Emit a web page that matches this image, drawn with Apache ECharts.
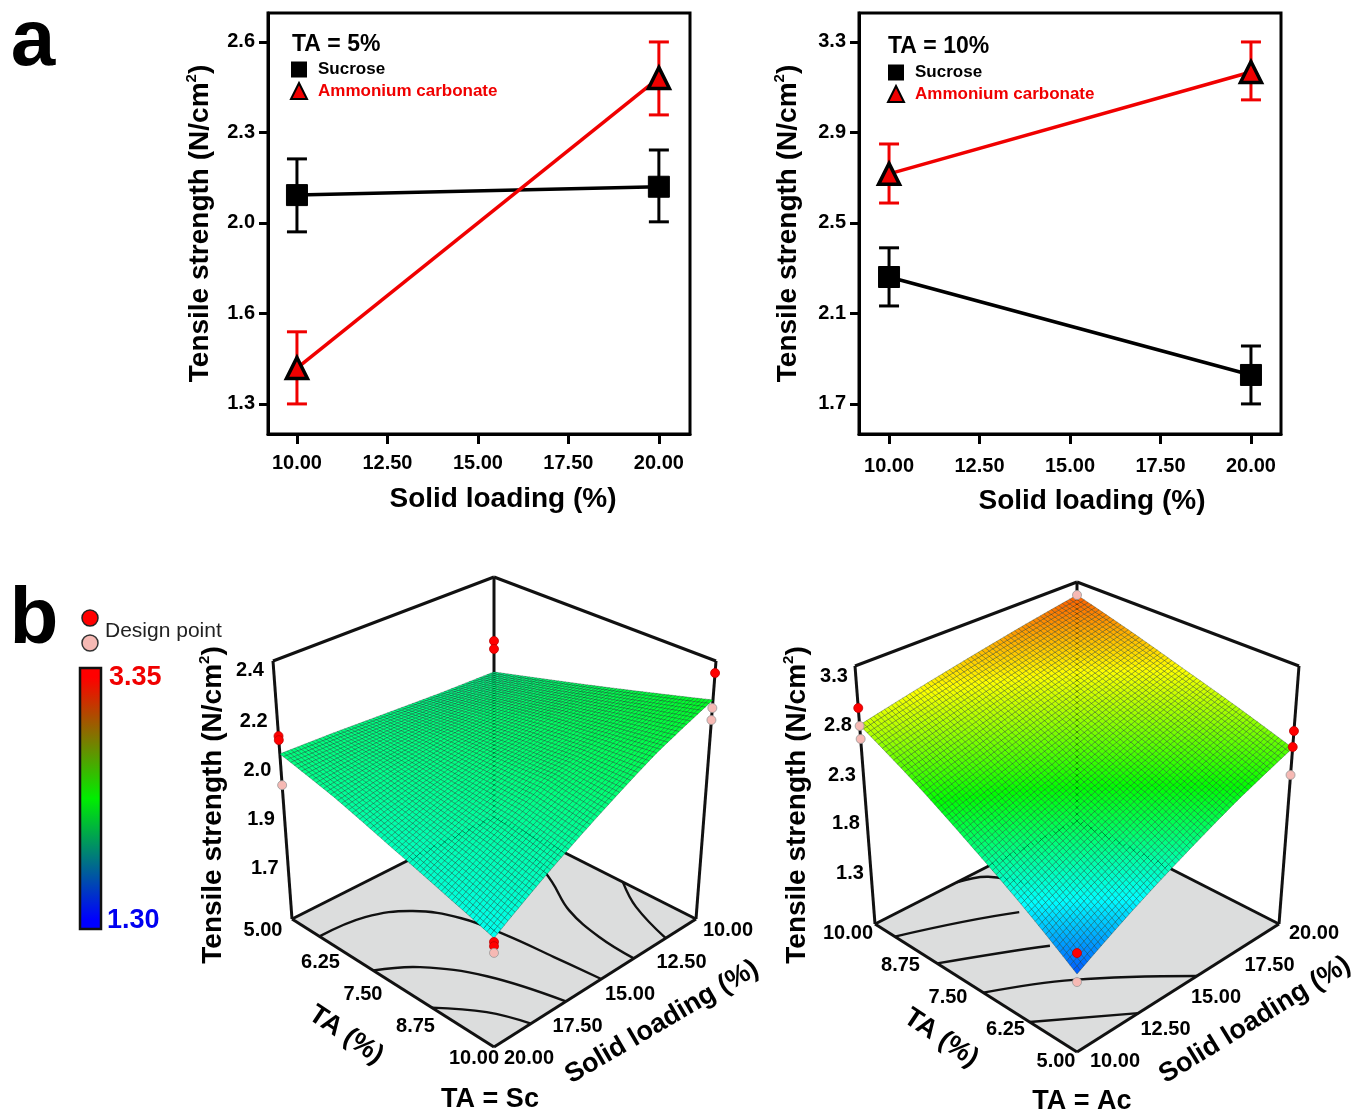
<!DOCTYPE html>
<html>
<head>
<meta charset="utf-8">
<style>html,body{margin:0;padding:0;background:#fff}#c{width:1354px;height:1113px}</style>
<script src="https://cdn.jsdelivr.net/npm/echarts@6/dist/echarts.min.js"></script>
</head>
<body>
<div id="c"></div>
<script>
// ---------- Panel a data ----------
const solidLoading = [10, 20];
const xTicks = [10, 12.5, 15, 17.5, 20];
const yTicks5 = [1.3, 1.625, 1.95, 2.275, 2.6];
const yTickLabels5 = ['1.3', '1.6', '2.0', '2.3', '2.6'];
const yTicks10 = [1.7, 2.1, 2.5, 2.9, 3.3];
const yTickLabels10 = ['1.7', '2.1', '2.5', '2.9', '3.3'];

const sucrose5 = [2.05, 2.08];
const sucrose5Low = [1.918, 1.954];
const sucrose5High = [2.18, 2.212];
const ammonium5 = [1.429, 2.471];
const ammonium5Low = [1.30, 2.338];
const ammonium5High = [1.559, 2.60];

const sucrose10 = [2.261, 1.828];
const sucrose10Low = [2.133, 1.70];
const sucrose10High = [2.39, 1.956];
const ammonium10 = [2.717, 3.167];
const ammonium10Low = [2.588, 3.044];
const ammonium10High = [2.849, 3.30];

// ---------- Panel b data ----------
const surfaceTA = [5, 6.25, 7.5, 8.75, 10];
const surfaceSL = [10, 12.5, 15, 17.5, 20];
// rows follow surfaceTA, columns follow surfaceSL
const surfaceSc = [
  [2.044, 2.05, 2.06, 2.07, 2.076],
  [2.10, 2.09, 2.075, 2.05, 2.02],
  [2.155, 2.125, 2.08, 2.02, 1.955],
  [2.21, 2.15, 2.085, 1.99, 1.895],
  [2.264, 2.17, 2.06, 1.95, 1.838]
];
const surfaceAc = [
  [1.472, 1.74, 2.0, 2.26, 2.505],
  [1.79, 2.02, 2.24, 2.46, 2.67],
  [2.10, 2.28, 2.46, 2.65, 2.83],
  [2.42, 2.56, 2.71, 2.85, 3.0],
  [2.728, 2.84, 2.95, 3.06, 3.164]
];
// design points: [TA, solid loading, strength]
const designAboveSc = [[5,10,2.16],[5,10,2.13],[5,20,2.138],[5,20,2.124],[10,10,2.358],[10,20,1.826],[10,20,1.813]];
const designBelowSc = [[5,20,1.967],[10,10,2.236],[10,10,2.194],[10,20,1.792]];
const designAboveAc = [[10,10,2.893],[5,20,2.67],[5,20,2.515],[5,10,1.653]];
const designBelowAc = [[10,10,2.719],[10,10,2.593],[5,20,2.244],[10,20,3.164],[5,10,1.403]];
// floor contours: [TA, solid loading]
const contoursSc = [
  [[5.68,20],[5.78,17.94],[6.2,16.42],[6.94,15.5],[7.86,15.12],[8.93,14.89],[10,14.69]],
  [[7.01,20],[7.49,18.64],[8.49,17.33],[10,16.44]],
  [[8.46,20],[9.22,18.8],[10,18.17]],
  [[6.5,11],[7.26,11.65],[8.11,12.51],[9.09,12.97],[10,13.08]],
  [[8.19,10],[8.92,10.81],[10,11.5]]
];
const contoursAc = [
  [[7.32,10],[6.49,12.82],[5,15.94]],
  [[6.17,10],[5,13.04]],
  [[8.46,10],[7.5,13.66],[6.82,15.52],[5,18.62]],
  [[9.51,10],[8.6,14.34],[7.23,18.12],[6,20]],
  [[10,14.04],[9.76,15.12],[9.09,15.85]]
];
const taTicks = [5, 6.25, 7.5, 8.75, 10];
const slTicks = [10, 12.5, 15, 17.5, 20];
const zTicksSc = [2.4, 2.225, 2.05, 1.875, 1.7];
const zLabelsSc = ['2.4', '2.2', '2.0', '1.9', '1.7'];
const zTicksAc = [3.3, 2.8, 2.3, 1.8, 1.3];
const zLabelsAc = ['3.3', '2.8', '2.3', '1.8', '1.3'];

// ---------- Layout ----------
const FAMILY = '"Liberation Sans", Arial, sans-serif';
const bold = s => 'bold ' + s + 'px ' + FAMILY;
const boldText = (s, c) => ({fontFamily: '"Liberation Sans", Arial, sans-serif', fontWeight: 'bold', fontSize: s, color: c || '#000'});
const panelSc = {
  floor: {B:[494,817], L:[292,919], R:[696,919], F:[494,1047]},
  top:   {B:[494,577], L:[273,661], R:[716,661], F:[494,757]},
  a: t => (t - 5) / 5, b: s => (s - 10) / 10,
  zMin: 1.5, zMax: 2.4, table: surfaceSc,
  contours: contoursSc, above: designAboveSc, below: designBelowSc,
  taDx: [-29, -22, -30, -28, -20], taDy: 11, slDx: [32, 36, 35, 33, 35], slDy: 11, taEdgeSL: 20, slEdgeTA: 10,
  zTicks: zTicksSc, zLabels: zLabelsSc, zEdge: [5, 20], zDx: -23, zDy: [9, 10, 9, 8, 7]
};
const panelAc = {
  floor: {B:[1077,821], L:[875,924], R:[1279,924], F:[1077,1052]},
  top:   {B:[1077,582], L:[855,666], R:[1299,666], F:[1077,762]},
  a: t => (10 - t) / 5, b: s => (20 - s) / 10,
  zMin: 0.8, zMax: 3.3, table: surfaceAc,
  contours: contoursAc, above: designAboveAc, below: designBelowAc,
  taDx: [-21, -21, -28, -25, -27], taDy: 9, slDx: [38, 38, 38, 41, 35], slDy: 9, taEdgeSL: 10, slEdgeTA: 5,
  zTicks: zTicksAc, zLabels: zLabelsAc, zEdge: [10, 10], zDx: -21, zDy: [10, 7.5, 6, 3, 1]
};
function bil(c, a, b) {
  const k = i => (1-a)*(1-b)*c.B[i] + (1-a)*b*c.L[i] + a*(1-b)*c.R[i] + a*b*c.F[i];
  return [k(0), k(1)];
}
function project(p, ta, sl, z) {
  const a = p.a(ta), b = p.b(sl), f = (z - p.zMin) / (p.zMax - p.zMin);
  const lo = bil(p.floor, a, b), hi = bil(p.top, a, b);
  return [lo[0] + (hi[0]-lo[0])*f, lo[1] + (hi[1]-lo[1])*f];
}
function tableValue(table, ta, sl) {
  const u = Math.min(3.9999, (ta - surfaceTA[0]) / 1.25), v = Math.min(3.9999, (sl - surfaceSL[0]) / 2.5);
  const i = Math.floor(u), j = Math.floor(v), fu = u - i, fv = v - j;
  return (1-fu)*(1-fv)*table[i][j] + (1-fu)*fv*table[i][j+1] + fu*(1-fv)*table[i+1][j] + fu*fv*table[i+1][j+1];
}
function rainbow(z) {
  const stops = [[1.30,[0,0,255]],[1.8125,[0,255,255]],[2.325,[0,255,0]],[2.8375,[255,255,0]],[3.35,[255,0,0]]];
  for (let i = 1; i < stops.length; i++) {
    if (z <= stops[i][0]) {
      const t = Math.max(0, (z - stops[i-1][0]) / (stops[i][0] - stops[i-1][0]));
      const c = stops[i-1][1].map((v, k) => Math.round(v + (stops[i][1][k] - v) * t));
      return 'rgb(' + c.join(',') + ')';
    }
  }
  return 'rgb(255,0,0)';
}
const MESH = 60;
function meshCells(p) {
  const cells = [];
  for (let i = 0; i < MESH; i++) {
    for (let j = 0; j < MESH; j++) {
      const corner = (ii, jj) => {
        const ta = 5 + 5 * ii / MESH, sl = 10 + 10 * jj / MESH;
        return project(p, ta, sl, tableValue(p.table, ta, sl));
      };
      const ta = 5 + 5 * (i + .5) / MESH, sl = 10 + 10 * (j + .5) / MESH;
      cells.push([].concat(corner(i,j), corner(i+1,j), corner(i+1,j+1), corner(i,j+1), [tableValue(p.table, ta, sl)]));
    }
  }
  return cells;
}
const poly = (api, n) => {
  const pts = [];
  for (let k = 0; k < n; k++) pts.push(api.coord([api.value(2*k), api.value(2*k+1)]));
  return pts;
};
function surfaceSeries(p) {
  return {
    type: 'custom', xAxisIndex: 2, yAxisIndex: 2, silent: true, clip: false, progressive: 0, animation: false, z: 4,
    data: meshCells(p),
    renderItem: (params, api) => ({
      type: 'polygon',
      shape: {points: poly(api, 4)},
      style: {fill: rainbow(api.value(8)), stroke: 'rgba(0,30,20,0.5)', lineWidth: 0.6}
    })
  };
}
function floorSeries(p) {
  const c = [[5,10],[5,20],[10,20],[10,10]].map(q => project(p, q[0], q[1], p.zMin));
  return {
    type: 'custom', xAxisIndex: 2, yAxisIndex: 2, silent: true, clip: false, animation: false, z: 2,
    data: [[].concat(c[0], c[1], c[2], c[3])],
    renderItem: (params, api) => ({type: 'polygon', shape: {points: poly(api, 4)}, style: {fill: '#dcdddd', stroke: null}})
  };
}
function lineSeries(data, width, z) {
  return {
    type: 'custom', xAxisIndex: 2, yAxisIndex: 2, silent: true, clip: false, animation: false, z: z,
    data: data,
    renderItem: (params, api) => {
      const n = data[params.dataIndex].length / 2;
      return {type: 'polyline', shape: {points: poly(api, n), smooth: n > 2 ? 0.4 : 0},
        style: {fill: null, stroke: '#111', lineWidth: width, lineJoin: 'round'}};
    }
  };
}
function contourSeries(p) {
  return lineSeries(p.contours.map(l => [].concat(...l.map(q => project(p, q[0], q[1], p.zMin)))), 2.4, 3);
}
function boxSeries(p) {
  const f = (t, s) => project(p, t, s, p.zMin), h = (t, s) => project(p, t, s, p.zMax);
  let back, left, right, front;
  const cs = [[5,10],[5,20],[10,10],[10,20]];
  cs.forEach(q => {
    const a = p.a(q[0]), b = p.b(q[1]);
    if (!a && !b) back = q; else if (!a && b) left = q; else if (a && !b) right = q; else front = q;
  });
  const seg = (u, v) => [].concat(u, v);
  return lineSeries([
    seg(f(...left), f(...back)), seg(f(...right), f(...back)), seg(f(...back), h(...back)),
    seg(f(...left), f(...front)), seg(f(...right), f(...front)),
    seg(f(...left), h(...left)), seg(f(...right), h(...right)),
    seg(h(...left), h(...back)), seg(h(...right), h(...back))
  ], 3, 3);
}
function designSeries(p, list, color, stroke) {
  return {
    type: 'scatter', xAxisIndex: 2, yAxisIndex: 2, silent: true, clip: false, animation: false, z: 6,
    symbolSize: 9, itemStyle: {color: color, borderColor: stroke, borderWidth: 0.8, opacity: 1},
    data: list.map(q => project(p, q[0], q[1], q[2]))
  };
}
function errorSeries(x, low, high, color, xi) {
  return {
    type: 'custom', xAxisIndex: xi, yAxisIndex: xi, silent: true, animation: false, z: 3,
    data: x.map((v, i) => [v, low[i], high[i]]),
    renderItem: (params, api) => {
      const a = api.coord([api.value(0), api.value(1)]), b = api.coord([api.value(0), api.value(2)]);
      const s = {stroke: color, lineWidth: 3};
      const cap = 10;
      return {type: 'group', children: [
        {type: 'line', shape: {x1: a[0], y1: a[1], x2: b[0], y2: b[1]}, style: s},
        {type: 'line', shape: {x1: a[0]-cap, y1: a[1], x2: a[0]+cap, y2: a[1]}, style: s},
        {type: 'line', shape: {x1: b[0]-cap, y1: b[1], x2: b[0]+cap, y2: b[1]}, style: s}
      ]};
    }
  };
}
function meanSeries(name, x, y, kind, xi) {
  const red = kind === 'triangle';
  return {
    name: name, type: 'line', xAxisIndex: xi, yAxisIndex: xi, animation: false, z: 4,
    data: x.map((v, i) => [v, y[i]]),
    symbol: red ? 'triangle' : 'rect',
    symbolSize: 21,
    showAllSymbol: true,
    lineStyle: {color: red ? '#f00000' : '#000', width: 3.5},
    itemStyle: red ? {color: '#f00000', borderColor: '#000', borderWidth: 3.5} : {color: '#000', borderColor: '#000'}
  };
}
const graphicRich = {
  a: {font: bold(28), fill: '#000', lineHeight: 32},
  b: {font: bold(15), fill: '#000', verticalAlign: 'top', lineHeight: 32}
};
const axisRich = {
  a: Object.assign(boldText(28), {lineHeight: 32}),
  b: Object.assign(boldText(15), {verticalAlign: 'top', lineHeight: 32})
};
const xAxisA = (min, max, margin, gap, shift) => ({
  type: 'value', min: min, max: max, gridIndex: 0,
  name: 'Solid loading (%)', nameLocation: 'middle', nameGap: gap,
  nameTextStyle: Object.assign(boldText(28), {padding: [0, 0, 0, shift]}),
  axisLine: {show: true, onZero: false, lineStyle: {color: '#000', width: 3}},
  axisTick: {show: true, length: 10, customValues: xTicks, lineStyle: {color: '#000', width: 3}},
  axisLabel: Object.assign(boldText(20), {customValues: xTicks, margin: margin, formatter: v => Number(v).toFixed(2)}),
  splitLine: {show: false}
});
const yAxisA = (min, max, ticks, labels, gap) => ({
  type: 'value', min: min, max: max,
  name: '{a|Tensile strength (N/cm}{b|2}{a|)}', nameLocation: 'middle', nameRotate: 90, nameGap: gap,
  nameTextStyle: {rich: axisRich},
  axisLine: {show: true, onZero: false, lineStyle: {color: '#000', width: 3}},
  axisTick: {show: true, length: 9, customValues: ticks, lineStyle: {color: '#000', width: 3}},
  axisLabel: Object.assign(boldText(20), {customValues: ticks, margin: 13,
    formatter: v => labels[ticks.findIndex(t => Math.abs(t - v) < 1e-6)]}),
  splitLine: {show: false}
});
const legendA = (left, top) => ({
  left: left, top: top, orient: 'vertical', itemWidth: 16, itemHeight: 16, itemGap: 4, selectedMode: false,
  textStyle: boldText(17),
  data: [
    {name: 'Sucrose', icon: 'rect', textStyle: Object.assign(boldText(17), {padding: [0, 0, 0, 6]})},
    {name: 'Ammonium carbonate', icon: 'triangle', textStyle: Object.assign(boldText(17, '#f00000'), {padding: [0, 0, 0, 6]})}
  ]
});
const txt = (text, x, y, font, fill, rotation, align) => ({
  type: 'text', x: x, y: y, rotation: rotation || 0, z: 20, silent: true,
  style: {text: text, font: font, fill: fill || '#000', align: align || 'center', verticalAlign: 'middle'}
});
const zTitle = (x, y) => ({
  type: 'text', x: x, y: y, rotation: Math.PI / 2, z: 20, silent: true,
  style: {text: '{a|Tensile strength (N/cm}{b|2}{a|)}', rich: graphicRich, align: 'center', verticalAlign: 'middle'}
});
function panelTexts(p) {
  const out = [];
  taTicks.forEach((t, i) => {
    const q = project(p, t, p.taEdgeSL, p.zMin);
    out.push(txt(t.toFixed(2), q[0] + p.taDx[i], q[1] + p.taDy, bold(20)));
  });
  slTicks.forEach((s, i) => {
    const q = project(p, p.slEdgeTA, s, p.zMin);
    out.push(txt(s.toFixed(2), q[0] + p.slDx[i], q[1] + p.slDy, bold(20)));
  });
  p.zTicks.forEach((z, i) => {
    const q = project(p, p.zEdge[0], p.zEdge[1], z);
    out.push(txt(p.zLabels[i], q[0] + p.zDx, q[1] + p.zDy[i], bold(20)));
  });
  return out;
}

const chart = echarts.init(document.getElementById('c'), null, {renderer: 'canvas'});
chart.setOption({
  backgroundColor: '#fff',
  animation: false,
  grid: [
    {left: 268, top: 13, width: 422, height: 421, show: true, borderColor: '#000', borderWidth: 3, backgroundColor: 'transparent'},
    {left: 859, top: 13, width: 422, height: 421, show: true, borderColor: '#000', borderWidth: 3, backgroundColor: 'transparent'},
    {left: 0, top: 0, right: 0, bottom: 0}
  ],
  xAxis: [
    xAxisA(9.2, 20.86, 19, 51, 48),
    Object.assign(xAxisA(9.17, 20.83, 22, 53, 44), {gridIndex: 1}),
    {type: 'value', gridIndex: 2, min: 0, max: 1354, show: false}
  ],
  yAxis: [
    Object.assign(yAxisA(1.192, 2.704, yTicks5, yTickLabels5, 52), {gridIndex: 0}),
    Object.assign(yAxisA(1.567, 3.428, yTicks10, yTickLabels10, 55), {gridIndex: 1}),
    {type: 'value', gridIndex: 2, min: 0, max: 1113, inverse: true, show: false}
  ],
  legend: [legendA(285, 56), legendA(882, 59)],
  series: [
    errorSeries(solidLoading, sucrose5Low, sucrose5High, '#000', 0),
    errorSeries(solidLoading, ammonium5Low, ammonium5High, '#f00000', 0),
    meanSeries('Sucrose', solidLoading, sucrose5, 'square', 0),
    meanSeries('Ammonium carbonate', solidLoading, ammonium5, 'triangle', 0),
    errorSeries(solidLoading, sucrose10Low, sucrose10High, '#000', 1),
    errorSeries(solidLoading, ammonium10Low, ammonium10High, '#f00000', 1),
    meanSeries('Sucrose', solidLoading, sucrose10, 'square', 1),
    meanSeries('Ammonium carbonate', solidLoading, ammonium10, 'triangle', 1),
    floorSeries(panelSc), contourSeries(panelSc), boxSeries(panelSc), surfaceSeries(panelSc),
    designSeries(panelSc, panelSc.above, '#ff0000', '#c00000'),
    designSeries(panelSc, panelSc.below, '#f6b9b4', '#999'),
    floorSeries(panelAc), contourSeries(panelAc), boxSeries(panelAc), surfaceSeries(panelAc),
    designSeries(panelAc, panelAc.above, '#ff0000', '#c00000'),
    designSeries(panelAc, panelAc.below, '#f6b9b4', '#999')
  ],
  graphic: [
    txt('a', 33, 43, bold(80)),
    txt('b', 34, 621, bold(80)),
    txt('TA = 5%', 292, 45, bold(23), '#000', 0, 'left'),
    txt('TA = 10%', 888, 47, bold(23), '#000', 0, 'left'),
    {type: 'circle', shape: {cx: 90, cy: 618, r: 8}, style: {fill: '#ff0000', stroke: '#222', lineWidth: 1.5}, silent: true, z: 20},
    {type: 'circle', shape: {cx: 90, cy: 643, r: 8}, style: {fill: '#f6b9b4', stroke: '#333', lineWidth: 1.5}, silent: true, z: 20},
    txt('Design point', 105, 631, '21px ' + FAMILY, '#222', 0, 'left'),
    {type: 'rect', shape: {x: 80, y: 668, width: 21, height: 261}, silent: true, z: 20,
      style: {stroke: '#111', lineWidth: 2.5, fill: new echarts.graphic.LinearGradient(0, 0, 0, 1, [
        {offset: 0, color: '#ff0000'}, {offset: 0.04, color: '#ff0000'},
        {offset: 0.5, color: '#00ee00'},
        {offset: 0.96, color: '#0000ff'}, {offset: 1, color: '#0000ff'}])}},
    txt('3.35', 109, 678, bold(27), '#f00000', 0, 'left'),
    txt('1.30', 107, 921, bold(27), '#0000f0', 0, 'left'),
    zTitle(213, 805), zTitle(797, 805),
    txt('TA (%)', 346, 1035, bold(27), '#000', -0.59),
    txt('TA (%)', 941, 1038, bold(27), '#000', -0.59),
    txt('Solid loading (%)', 662, 1022, bold(27), '#000', 0.53),
    txt('Solid loading (%)', 1255, 1020, bold(27), '#000', 0.55),
    txt('TA = Sc', 490, 1100, bold(27)),
    txt('TA = Ac', 1082, 1102, bold(27))
  ].concat(panelTexts(panelSc), panelTexts(panelAc))
});
</script>
</body>
</html>
